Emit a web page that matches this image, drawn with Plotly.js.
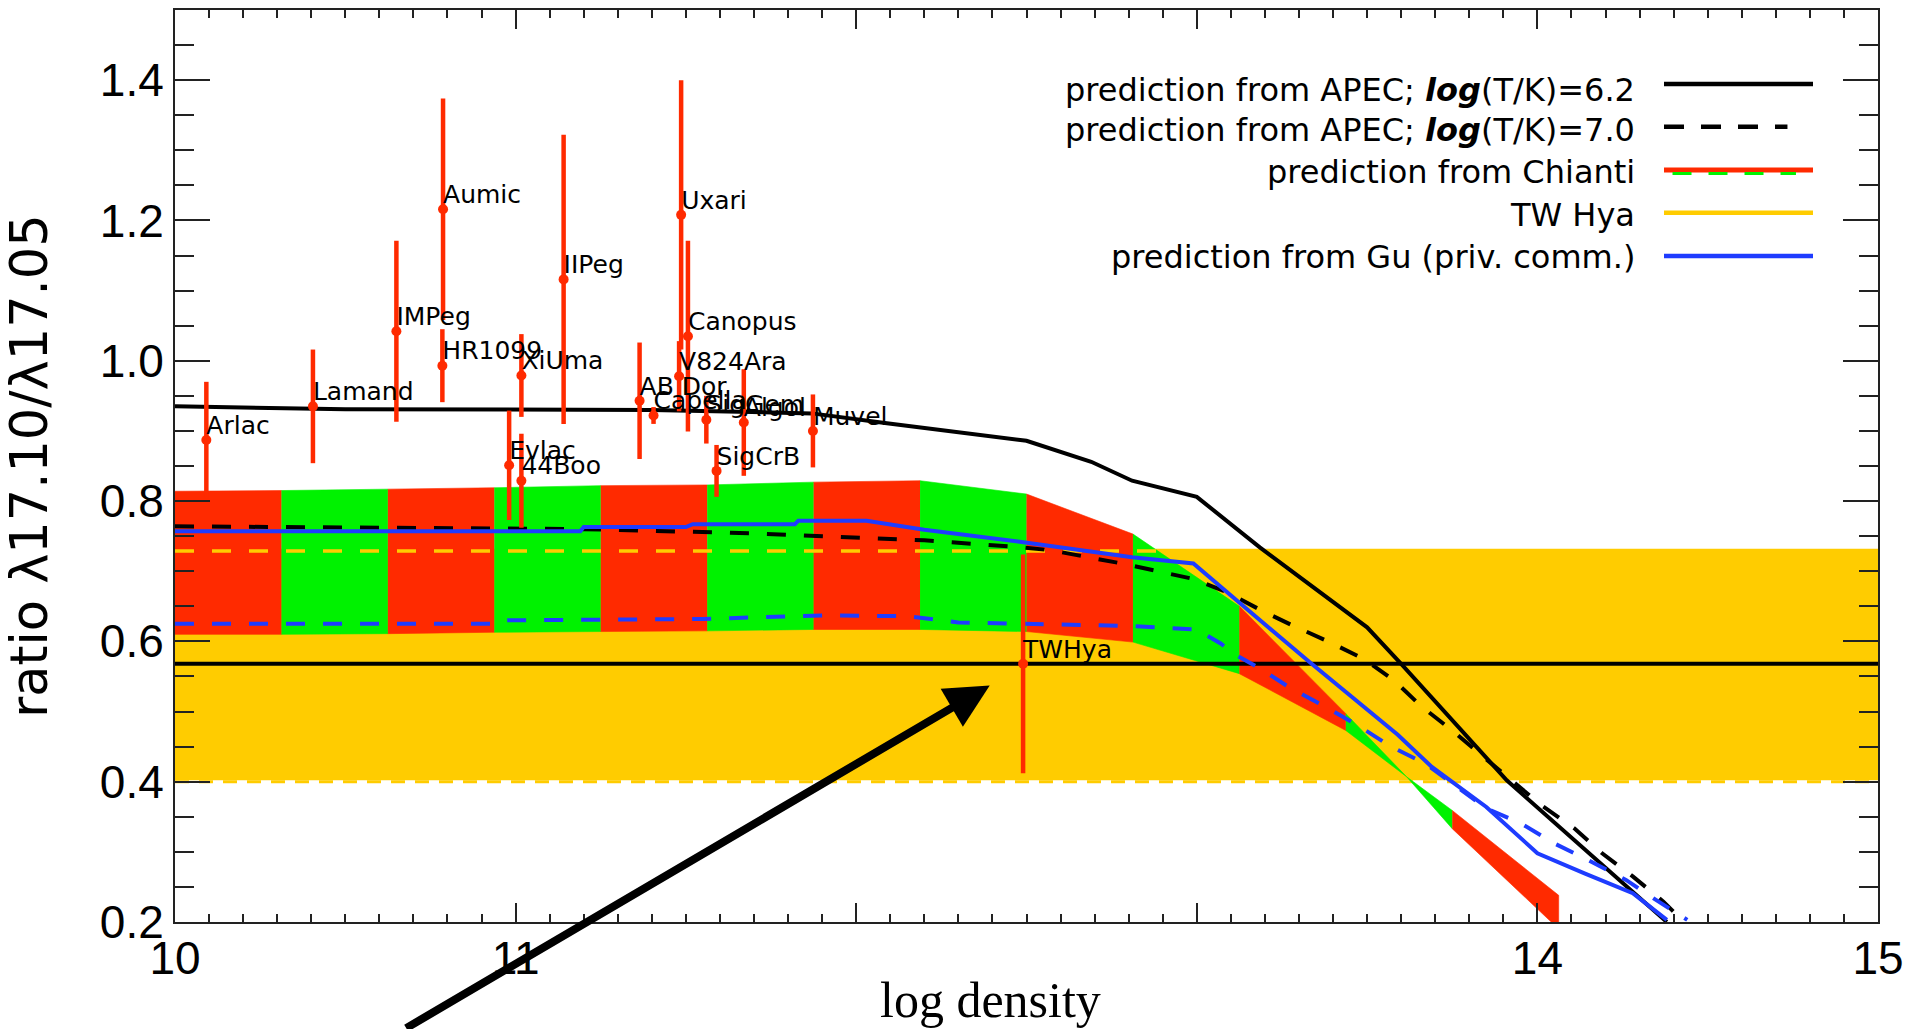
<!DOCTYPE html>
<html>
<head>
<meta charset="utf-8">
<script src="https://cdn.plot.ly/plotly-3.0.1.min.js"></script>
<style>
html, body { margin: 0; padding: 0; background: #ffffff; }
#chart { width: 1925px; height: 1029px; }
</style>
</head>
<body>
<div id="chart"></div>
<script>
// ---------------- data ----------------
const xTickVals = [10, 11, 12, 13, 14, 15];
const xTickText = ['10', '11', '', '', '14', '15'];
const yTickVals = [0.2, 0.4, 0.6, 0.8, 1.0, 1.2, 1.4];
const yTickText = ['0.2', '0.4', '0.6', '0.8', '1.0', '1.2', '1.4'];

// measured stars
const starNames = ['Arlac', 'Lamand', 'IMPeg', 'Aumic', 'HR1099', 'XiUma', 'Evlac', '44Boo', 'IIPeg',
  'AB Dor', 'Capella', 'Uxari', 'Canopus', 'V824Ara', 'SigGem', 'SigCrB', 'Algol', 'Muvel', 'TWHya'];
const starLogDensity = [10.092, 10.405, 10.650, 10.787, 10.785, 11.017, 10.981, 11.017, 11.141,
  11.364, 11.405, 11.486, 11.506, 11.480, 11.560, 11.590, 11.670, 11.873, 12.490];
const starRatio = [0.887, 0.935, 1.042, 1.216, 0.993, 0.979, 0.851, 0.829, 1.116,
  0.943, 0.922, 1.208, 1.035, 0.978, 0.916, 0.843, 0.912, 0.900, 0.568];
const starError = [0.083, 0.081, 0.129, 0.158, 0.052, 0.059, 0.078, 0.067, 0.206,
  0.083, 0.012, 0.192, 0.136, 0.050, 0.034, 0.037, 0.076, 0.052, 0.156];

// APEC, log(T/K)=6.2
const apec62X = [10.0, 10.5, 11.4, 11.87, 12.09, 12.5, 12.69, 12.81, 13.0, 13.185, 13.5, 13.6, 13.91, 14.38];
const apec62Y = [0.935, 0.931, 0.930, 0.925, 0.911, 0.886, 0.856, 0.829, 0.806, 0.734, 0.620, 0.568, 0.402, 0.200];

// APEC, log(T/K)=7.0
const apec70X = [10.0, 11.2, 11.7, 12.2, 12.46, 12.57, 12.78, 12.88, 12.99, 13.09, 13.19, 13.28, 13.39,
  13.49, 13.58, 13.66, 13.75, 13.83, 14.01, 14.11, 14.19, 14.28, 14.37, 14.42];
const apec70Y = [0.764, 0.760, 0.754, 0.744, 0.735, 0.730, 0.711, 0.701, 0.689, 0.670, 0.644, 0.623, 0.599,
  0.575, 0.544, 0.507, 0.473, 0.440, 0.367, 0.333, 0.298, 0.265, 0.229, 0.205];

// Gu (priv. comm.), solid
const guX = [10.0, 11.19, 11.2, 11.5, 11.52, 11.82, 11.83, 12.03, 12.2, 12.48, 12.81, 12.99, 13.14,
  13.33, 13.59, 13.69, 13.85, 14.0, 14.14, 14.28, 14.38];
const guY = [0.757, 0.757, 0.763, 0.763, 0.767, 0.767, 0.772, 0.772, 0.759, 0.742, 0.720, 0.711, 0.649,
  0.571, 0.467, 0.421, 0.364, 0.298, 0.269, 0.241, 0.203];

// Gu (priv. comm.), dashed
const guDashX = [10.0, 10.93, 10.95, 11.55, 11.9, 12.15, 12.3, 12.8, 13.0, 13.07, 13.11, 13.18, 13.27,
  13.38, 13.48, 13.57, 13.67, 13.85, 13.95, 14.05, 14.15, 14.26, 14.34, 14.44];
const guDashY = [0.625, 0.625, 0.630, 0.632, 0.637, 0.636, 0.627, 0.622, 0.617, 0.597, 0.582, 0.563, 0.535,
  0.506, 0.478, 0.450, 0.426, 0.362, 0.341, 0.312, 0.288, 0.260, 0.234, 0.203];

// Chianti band (upper / lower prediction), drawn in alternating bins
const chiantiX = [10.0, 10.3125, 10.625, 10.9375, 11.25, 11.5625, 11.875, 12.1875, 12.5, 12.8125,
  13.125, 13.4375, 13.616, 13.75, 14.0625];
const chiantiHigh = [0.814, 0.815, 0.817, 0.819, 0.822, 0.823, 0.827, 0.829, 0.810, 0.753,
  0.650, 0.497, 0.407, 0.359, 0.238];
const chiantiLow = [0.610, 0.610, 0.611, 0.613, 0.614, 0.615, 0.617, 0.617, 0.614, 0.599,
  0.554, 0.473, 0.407, 0.333, 0.190];
const chiantiBins = [10.0, 10.3125, 10.625, 10.9375, 11.25, 11.5625, 11.875, 12.1875, 12.5, 12.8125,
  13.125, 13.4375, 13.75, 14.0625];

// TW Hya measured ratio and its range
const twhyaRatio = 0.568;
const twhyaLow = 0.402;
const twhyaHigh = 0.732;
const twhyaUpperLine = 0.729;
const xSpan = [10, 15];

// legend
const legendLabels = [
  'prediction from APEC; <b><i>log</i></b>(T/K)=6.2',
  'prediction from APEC; <b><i>log</i></b>(T/K)=7.0',
  'prediction from Chianti',
  'TW Hya',
  'prediction from Gu (priv. comm.)'
];

// ---------------- styles ----------------
const RED = '#ff2a00';
const GREEN = '#00f200';
const YELLOW = '#ffcc00';
const BLUE = '#1e3cff';
const BLACK = '#000000';
const DASH = '19px,18px';

const traces = [];

// TW Hya band
traces.push({
  x: [xSpan[0], xSpan[1], xSpan[1], xSpan[0]],
  y: [twhyaLow, twhyaLow, twhyaHigh, twhyaHigh],
  mode: 'lines', fill: 'toself', fillcolor: YELLOW,
  line: { width: 0, color: YELLOW }, hoverinfo: 'skip'
});
traces.push({
  x: xSpan, y: [twhyaLow - 0.002, twhyaLow - 0.002], mode: 'lines',
  line: { color: YELLOW, width: 3, dash: '14px,10px' }, hoverinfo: 'skip'
});

// Chianti bins
for (let i = 0; i < chiantiBins.length - 1; i++) {
  const a = chiantiBins[i], b = chiantiBins[i + 1];
  const ux = [], uy = [], lx = [], ly = [];
  for (let k = 0; k < chiantiX.length; k++) {
    if (chiantiX[k] >= a - 1e-9 && chiantiX[k] <= b + 1e-9) {
      ux.push(chiantiX[k]); uy.push(chiantiHigh[k]);
      lx.push(chiantiX[k]); ly.push(chiantiLow[k]);
    }
  }
  const col = (i % 2 === 0) ? RED : GREEN;
  traces.push({
    x: ux.concat(lx.slice().reverse()),
    y: uy.concat(ly.slice().reverse()),
    mode: 'lines', fill: 'toself', fillcolor: col,
    line: { width: 0.6, color: col }, hoverinfo: 'skip'
  });
}

// TW Hya upper bound (dashed yellow) and measured value (black)
traces.push({ x: xSpan, y: [twhyaUpperLine, twhyaUpperLine], mode: 'lines',
  line: { color: YELLOW, width: 3.5, dash: DASH }, hoverinfo: 'skip' });
traces.push({ x: xSpan, y: [twhyaRatio, twhyaRatio], mode: 'lines',
  line: { color: BLACK, width: 4 }, hoverinfo: 'skip' });

// APEC predictions
traces.push({ x: apec62X, y: apec62Y, mode: 'lines', line: { color: BLACK, width: 4 }, hoverinfo: 'skip' });
traces.push({ x: apec70X, y: apec70Y, mode: 'lines', line: { color: BLACK, width: 4, dash: DASH }, hoverinfo: 'skip' });

// Gu predictions
traces.push({ x: guDashX, y: guDashY, mode: 'lines', line: { color: BLUE, width: 4, dash: DASH }, hoverinfo: 'skip' });
traces.push({ x: guX, y: guY, mode: 'lines', line: { color: BLUE, width: 4 }, hoverinfo: 'skip' });

// stars: points with error bars
traces.push({
  x: starLogDensity, y: starRatio,
  mode: 'markers',
  marker: { color: RED, size: 10, symbol: 'circle' },
  error_y: { type: 'data', array: starError, visible: true, color: RED, thickness: 4.5, width: 0 },
  hoverinfo: 'skip'
});
// star names
traces.push({
  x: starLogDensity, y: starRatio, text: starNames,
  mode: 'text', textposition: 'top right',
  textfont: { family: 'DejaVu Sans', size: 25, color: BLACK },
  cliponaxis: false, hoverinfo: 'skip'
});

// ---------------- layout ----------------
const plotL = 175, plotR = 1878, plotT = 10, plotB = 922;
const px2paperX = p => (p - plotL) / (plotR - plotL);
const px2paperY = p => (plotB - p) / (plotB - plotT);

const legendTextRight = 1637;
const legendTextY = [90, 130, 172, 215, 257];
const legendLineY = [84, 126.7, 170, 212.7, 256];
const legendLineX = [1664, 1813];

const annotations = [];
const shapes = [];
legendLabels.forEach((t, i) => {
  annotations.push({
    xref: 'paper', yref: 'paper', x: px2paperX(legendTextRight), y: px2paperY(legendTextY[i]),
    xanchor: 'right', yanchor: 'middle', text: t, showarrow: false,
    font: { family: 'DejaVu Sans', size: 32, color: BLACK }
  });
});
const lx0 = px2paperX(legendLineX[0]), lx1 = px2paperX(legendLineX[1]);
shapes.push({ type: 'line', xref: 'paper', yref: 'paper', x0: lx0, x1: lx1, y0: px2paperY(legendLineY[0]), y1: px2paperY(legendLineY[0]), line: { color: BLACK, width: 4.5 } });
shapes.push({ type: 'line', xref: 'paper', yref: 'paper', x0: lx0, x1: lx1 - 0.015, y0: px2paperY(legendLineY[1]), y1: px2paperY(legendLineY[1]), line: { color: BLACK, width: 4.5, dash: '20px,17px' } });
shapes.push({ type: 'line', xref: 'paper', yref: 'paper', x0: lx0, x1: lx1, y0: px2paperY(legendLineY[2]), y1: px2paperY(legendLineY[2]), line: { color: RED, width: 5 } });
shapes.push({ type: 'line', xref: 'paper', yref: 'paper', x0: lx0 + 0.005, x1: lx1 - 0.01, y0: px2paperY(legendLineY[2] + 3.5), y1: px2paperY(legendLineY[2] + 3.5), line: { color: GREEN, width: 3, dash: '19px,17px' } });
shapes.push({ type: 'line', xref: 'paper', yref: 'paper', x0: lx0, x1: lx1, y0: px2paperY(legendLineY[3]), y1: px2paperY(legendLineY[3]), line: { color: YELLOW, width: 4.5 } });
shapes.push({ type: 'line', xref: 'paper', yref: 'paper', x0: lx0, x1: lx1, y0: px2paperY(legendLineY[4]), y1: px2paperY(legendLineY[4]), line: { color: BLUE, width: 4.5 } });

// x-axis title
annotations.push({
  xref: 'paper', yref: 'paper', x: px2paperX(990), y: px2paperY(1000),
  xanchor: 'center', yanchor: 'middle', text: 'log density', showarrow: false,
  font: { family: 'Liberation Serif, Times New Roman, serif', size: 50, color: BLACK }
});

// arrow pointing at TW Hya
const arrowTip = { x: 12.392, y: 0.537 };
annotations.push({
  x: arrowTip.x, y: arrowTip.y, xref: 'x', yref: 'y', text: '',
  showarrow: true, arrowhead: 2, arrowsize: 1.1, arrowwidth: 8, arrowcolor: BLACK,
  ax: -585, ay: 344
});

const tickFont = { family: 'Liberation Sans, Arial, sans-serif', size: 46, color: BLACK };

const layout = {
  width: 1925, height: 1029,
  margin: { l: plotL, r: 1925 - plotR, t: plotT, b: 1029 - plotB },
  paper_bgcolor: '#ffffff', plot_bgcolor: '#ffffff',
  showlegend: false,
  xaxis: {
    range: [10, 15], tickmode: 'array', tickvals: xTickVals, ticktext: xTickText,
    ticks: 'inside', ticklen: 19, tickwidth: 2, tickcolor: '#222',
    minor: { dtick: 0.1, tick0: 10, ticks: 'inside', ticklen: 8, tickwidth: 2, tickcolor: '#222' },
    showline: true, linewidth: 2, linecolor: '#222', mirror: 'allticks',
    showgrid: false, zeroline: false, tickfont: tickFont, ticklabelstandoff: -5
  },
  yaxis: {
    range: [0.2, 1.5], tickmode: 'array', tickvals: yTickVals, ticktext: yTickText,
    ticks: 'inside', ticklen: 35, tickwidth: 2, tickcolor: '#222',
    minor: { dtick: 0.05, tick0: 0.2, ticks: 'inside', ticklen: 19, tickwidth: 2, tickcolor: '#222' },
    showline: true, linewidth: 2, linecolor: '#222', mirror: 'allticks',
    showgrid: false, zeroline: false, tickfont: tickFont, ticklabelstandoff: 0,
    title: { text: 'ratio λ17.10/λ17.05', font: { family: 'DejaVu Sans', size: 51, color: BLACK }, standoff: 36 }
  },
  annotations: annotations,
  shapes: shapes
};

Plotly.newPlot('chart', traces, layout, { displayModeBar: false, staticPlot: true });
</script>
</body>
</html>
